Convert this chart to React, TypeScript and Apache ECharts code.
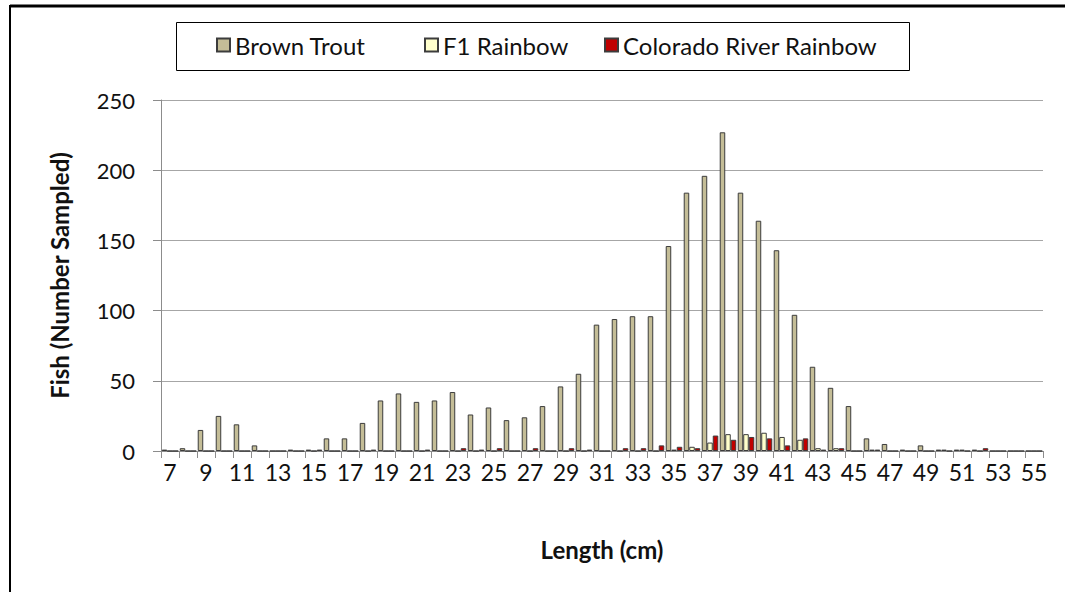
import React, { useEffect, useRef } from "react";
import * as echarts from "echarts";

const lengths: string[] = [];
for (let i = 7; i <= 55; i++) lengths.push(String(i));

// values indexed by length 7..55
const brownTrout = [
  1, 2, 15, 25, 19, 4, 0, 1, 1, 9, 9, 20, 36, 41, 35, 36, 42, 26, 31, 22, 24, 32, 46, 55, 90,
  94, 96, 96, 146, 184, 196, 227, 184, 164, 143, 97, 60, 45, 32, 9, 5, 1, 4, 1, 1, 1, 0, 0, 0,
];
const f1Rainbow = [
  0, 0, 0, 0, 0, 0, 0, 0, 0, 0, 0, 0, 0, 0, 0, 0, 0, 0, 0, 0, 0, 0, 0, 0, 0,
  0, 0, 0, 1, 3, 6, 12, 12, 13, 10, 8, 2, 2, 0, 1, 0, 0, 0, 1, 1, 0, 0, 0, 0,
];
const coloradoRiverRainbow = [
  0, 0, 0, 0, 0, 0, 0, 0, 1, 0, 0, 1, 0, 0, 1, 0, 2, 1, 2, 0, 2, 0, 2, 1, 0,
  2, 2, 4, 3, 2, 11, 8, 10, 9, 4, 9, 1, 2, 0, 1, 0, 0, 0, 0, 0, 2, 0, 0, 0,
];
const yTicks = [0, 50, 100, 150, 200, 250];

const FONT = "Lato";
const BORDER = "#3c3c3c";

export default function App() {
  const ref = useRef<HTMLDivElement>(null);
  useEffect(() => {
    if (!ref.current) return;
    const chart = echarts.init(ref.current, undefined, { renderer: "svg" });
    const legendText = { fontFamily: FONT, fontSize: 24, color: "#111" };
    const mkLegend = (name: string, left: number) => ({
      data: [name],
      left,
      top: 33,
      itemWidth: 13,
      itemHeight: 13,
      itemGap: 0,
      icon: "rect",
      padding: 0,
      textStyle: legendText,
      selectedMode: false,
    });
    chart.setOption({
      animation: false,
      backgroundColor: "#fff",
      textStyle: { fontFamily: FONT },
      graphic: [
        {
          type: "line",
          shape: { x1: 10, y1: 6, x2: 1065, y2: 6 },
          style: { stroke: "#000", lineWidth: 3 },
        },
        {
          type: "line",
          shape: { x1: 10, y1: 5, x2: 10, y2: 592 },
          style: { stroke: "#000", lineWidth: 2 },
        },
        {
          type: "rect",
          shape: { x: 176.5, y: 22.5, width: 733, height: 48 },
          style: { fill: "#fff", stroke: "#000", lineWidth: 1 },
          z: -1,
        },
      ],
      legend: [
        mkLegend("Brown Trout", 216),
        mkLegend("F1 Rainbow", 424),
        mkLegend("Colorado River Rainbow", 604),
      ],
      grid: { left: 161, right: 22, top: 100, bottom: 141, containLabel: false },
      xAxis: {
        type: "category",
        data: lengths,
        boundaryGap: true,
        name: "Length (cm)",
        nameLocation: "middle",
        nameGap: 86,
        nameTextStyle: { fontFamily: FONT, fontSize: 24, fontWeight: "bold", color: "#111" },
        axisLine: { lineStyle: { color: "#8c8c8c", width: 1 } },
        axisTick: { show: true, interval: 0, length: 7, lineStyle: { color: "#8c8c8c" } },
        axisLabel: { interval: 1, margin: 9, fontFamily: FONT, fontSize: 23, color: "#111" },
        splitLine: { show: false },
      },
      yAxis: {
        type: "value",
        min: yTicks[0],
        max: yTicks[yTicks.length - 1],
        interval: 50,
        name: "Fish (Number Sampled)",
        nameLocation: "middle",
        nameGap: 90,
        nameRotate: 90,
        nameTextStyle: { fontFamily: FONT, fontSize: 24, fontWeight: "bold", color: "#111" },
        axisLine: { show: true, lineStyle: { color: "#8c8c8c", width: 1 } },
        axisTick: { show: true, inside: false, length: 8, lineStyle: { color: "#8c8c8c" } },
        axisLabel: { margin: 26, fontFamily: FONT, fontSize: 22, color: "#111" },
        splitLine: { show: true, lineStyle: { color: "#a6a6a6", width: 1 } },
      },
      series: [
        {
          name: "Brown Trout",
          type: "bar",
          data: brownTrout,
          barGap: "0%",
          barCategoryGap: "8%",
          itemStyle: { color: "#C4BD97", borderColor: BORDER, borderWidth: 1 },
        },
        {
          name: "F1 Rainbow",
          type: "bar",
          data: f1Rainbow,
          barGap: "0%",
          barCategoryGap: "8%",
          itemStyle: { color: "#FFFFCC", borderColor: BORDER, borderWidth: 1 },
        },
        {
          name: "Colorado River Rainbow",
          type: "bar",
          data: coloradoRiverRainbow,
          barGap: "0%",
          barCategoryGap: "8%",
          itemStyle: { color: "#C00000", borderColor: BORDER, borderWidth: 1 },
        },
      ],
    });
    return () => chart.dispose();
  }, []);
  return (
    <div
      ref={ref}
      style={{ position: "fixed", left: 0, top: 0, width: 1065, height: 592, background: "#fff" }}
    />
  );
}
